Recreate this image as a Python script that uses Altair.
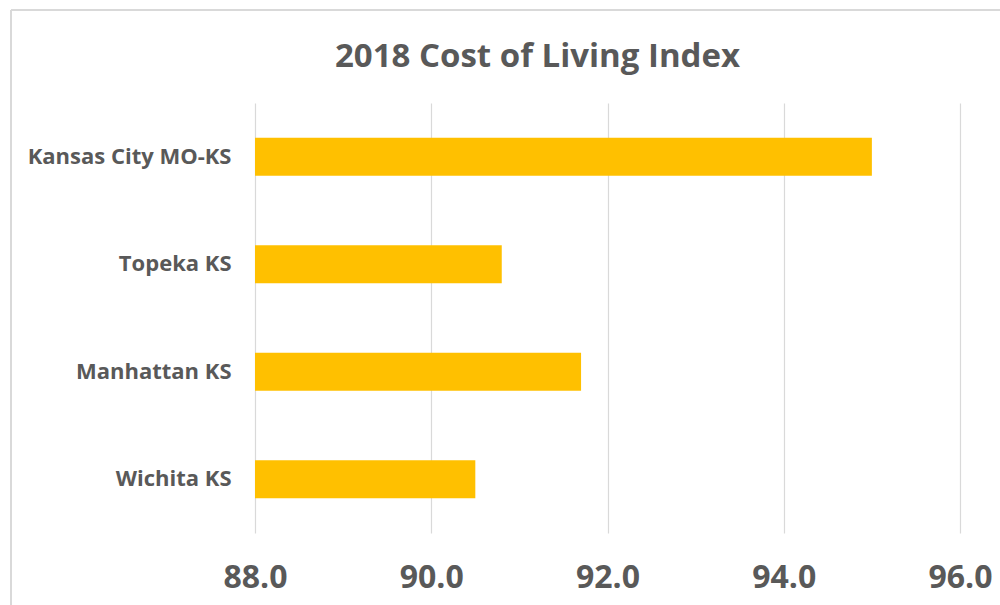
import altair as alt
import pandas as pd

cities = ["Kansas City MO-KS", "Topeka KS", "Manhattan KS", "Wichita KS"]
values = [95.0, 90.8, 91.7, 90.5]
x_ticks = [88, 90, 92, 94, 96]

df = pd.DataFrame({"city": cities, "value": values})

FONT = "Open Sans"
GREY = "#595959"

bars = alt.Chart(df).mark_bar(color="#FFC000", clip=True).encode(
    y=alt.Y("city:N", sort=cities, title=None,
            scale=alt.Scale(paddingInner=0.645, paddingOuter=0.3225),
            axis=alt.Axis(labelFont=FONT, labelFontSize=22, labelFontWeight="bold",
                          labelColor=GREY, labelPadding=24, labelLimit=400,
                          ticks=False, domain=False, grid=False)),
    x=alt.X("value:Q", title=None,
            scale=alt.Scale(domain=[88, 96], nice=False, zero=False),
            axis=alt.Axis(values=x_ticks, format=".1f", labelFont=FONT, labelFontSize=32,
                          labelFontWeight="bold", labelColor=GREY, labelPadding=29,
                          labelFlush=False, ticks=False, domain=False, grid=True,
                          gridColor="#D9D9D9", gridWidth=1.2)),
)

border_top = alt.Chart(df).mark_rule(color="#D9D9D9", strokeWidth=1.5).encode(
    x=alt.value(-244), x2=alt.value(760), y=alt.value(-93)
)
border_left = alt.Chart(df).mark_rule(color="#D9D9D9", strokeWidth=1.5).encode(
    x=alt.value(-244), y=alt.value(-93), y2=alt.value(510)
)

chart = alt.layer(bars, border_top, border_left).properties(
    width=705,
    height=430,
    background="white",
    title=alt.TitleParams("2018 Cost of Living Index", font=FONT, fontSize=33,
                          fontWeight="bold", color=GREY, anchor="middle", dx=-70,
                          offset=-65),
    autosize=alt.AutoSizeParams(type="none"),
    padding={"left": 255, "top": 103, "right": 40, "bottom": 72},
).configure_view(strokeWidth=0)

chart.save("out.html", embed_options={"renderer": "svg", "actions": False})
